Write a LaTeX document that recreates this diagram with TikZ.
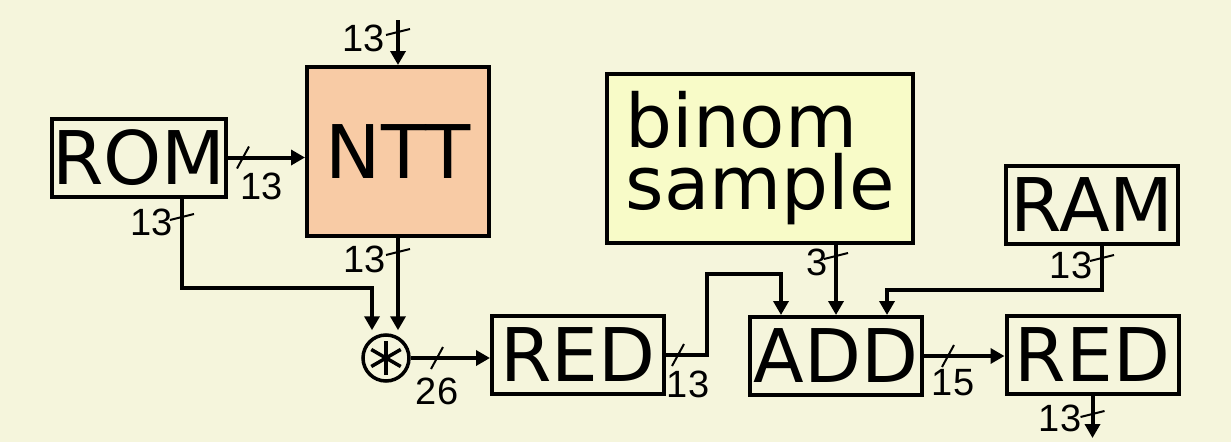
\documentclass[tikz,border=0pt]{standalone}
\usepackage{fontspec}
\setmainfont{DejaVu Sans}
\newfontfamily\numfont{Liberation Sans}
\usetikzlibrary{arrows.meta, calc}
\definecolor{bgcream}{RGB}{245,245,220}
\definecolor{nttpeach}{RGB}{248,203,165}
\definecolor{binyellow}{RGB}{248,251,200}
\begin{document}
\begin{tikzpicture}[x=1pt, y=-1pt, line join=miter,
    blk/.style={draw, line width=4pt, inner sep=0pt, minimum width=172pt, minimum height=78pt, font=\fontsize{74}{62}\selectfont},
    bus/.style={line width=4pt},
    slash/.style={line width=2pt},
    buswd/.style={font=\numfont\fontsize{38}{38}\selectfont, inner sep=0pt},
    >={Triangle[length=14pt,width=15pt]}]
    \useasboundingbox[fill=bgcream] (0,0) rectangle (1231,442);

    % blocks
    \node[blk] (rom) at (139,157.5) {ROM};
    \node[blk, fill=nttpeach, minimum width=182pt, minimum height=169pt] (ntt) at (398,151.5) {NTT};
    \node[draw, circle, line width=3.5pt, minimum size=46pt, inner sep=0pt] (mul) at (386,358) {};
    \foreach \a in {30,90,150}{
        \draw[line width=3.5pt] (mul.center) ++(\a:17) -- ++(\a+180:34);
    }
    \node[blk] (red1) at (578,355) {RED};
    \node[blk] (add) at (836,356) {ADD};
    \node[blk, fill=binyellow, minimum width=306pt, minimum height=169pt, align=left] (bin) at (760,158.5) {binom\\sample};
    \node[blk] (ram) at (1092,204.5) {RAM};
    \node[blk] (red2) at (1092.5,355) {RED};

    \coordinate (nttin) at (398,20);
    \coordinate (out) at (1092.5,438);

    % connectors
    \draw[bus,->] (nttin) -- (ntt.north);
    \draw[bus,->] (rom.east) -- (rom.east -| ntt.west);
    \draw[bus,->] ($(rom.south)+(43,0)$) |- ($(mul.north)+(-14,-45)$) -- ($(mul.north)+(-14,-3)$);
    \draw[bus,->] (ntt.south) -- ($(mul.north)+(12,-3)$);
    \draw[bus,->] (mul.east) -- (mul.east -| red1.west);
    \draw[bus,->] (red1.east) -- ++(41,0) |- ($(add.north)+(-55,-41)$) -- ($(add.north)+(-55,0)$);
    \draw[bus,->] (bin.south -| add.north) -- (add.north);
    \draw[bus,->] ($(ram.south)+(10,0)$) |- ($(add.north)+(51,-25)$) -- ($(add.north)+(51,0)$);
    \draw[bus,->] (add.east) -- (add.east -| red2.west);
    \draw[bus,->] (red2.south) -- (out);

    % bus widths
    \foreach \x/\y/\lx/\ly/\n [count=\i] in {398/32/364/38/13, 182/217/152/222/13, 398/252/365/259/13,
        836/256/817/262/3, 1102/258/1071/265/13, 1092.5/414/1060/418/13}{
        \draw[slash] (\x,\y) ++(-12,3) -- ++(24,-6);
        \node[buswd] (v\i) at (\lx,\ly) {\n};
    }
    \foreach \x/\y/\lx/\ly/\n [count=\i] in {243/157.5/262/186/13, 437/358/437/391/26,
        678/355/688/384/13, 948/356/953/383/15}{
        \draw[slash] (\x,\y) ++(-6,11) -- ++(12,-22);
        \node[buswd] (h\i) at (\lx,\ly) {\n};
    }
\end{tikzpicture}
\end{document}
